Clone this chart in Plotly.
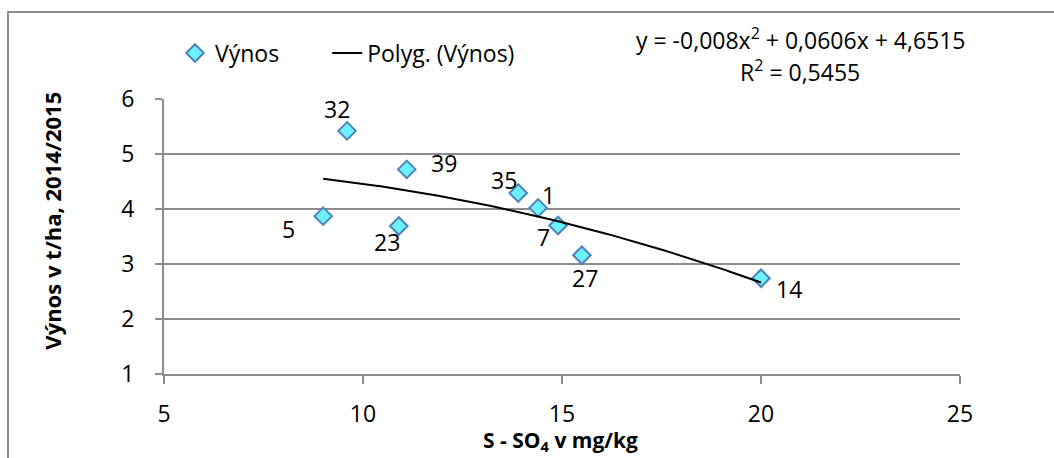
import plotly.graph_objects as go
import numpy as np

# Sulphate sulphur in soil vs. yield, with plot numbers
s_so4 = [9.6, 11.1, 9.0, 10.9, 13.9, 14.4, 14.9, 15.5, 20.0]
vynos = [5.42, 4.72, 3.87, 3.69, 4.29, 4.02, 3.70, 3.16, 2.74]
plot_ids = ["32", "39", "5", "23", "35", "1", "7", "27", "14"]

# Second-order polynomial trend (a*x^2 + b*x + c) and its R^2
trend_coef = [-0.008, 0.0606, 4.6515]
trend_r2 = 0.5455

x_ticks = [5, 10, 15, 20, 25]
y_ticks = [1, 2, 3, 4, 5, 6]

x_title = "<b>S - SO<sub>4</sub> v mg/kg</b>"
y_title = "<b>Výnos v t/ha, 2014/2015</b>"

# Label offsets (px) around each marker
label_dx = [-10, 37, -35, -12, -14, 10, -15, 3, 28]
label_dy = [-22, -6, 13, 16, -13, -13, 11, 23, 11]

FONT = "Open Sans"
GRID = "#8c8c8c"
FS = 23

def dec(v):
    return f"{v:g}".replace(".", ",")

xs = np.linspace(min(s_so4), max(s_so4), 100)
ys = np.polyval(trend_coef, xs)

fig = go.Figure()
fig.add_trace(go.Scatter(
    x=s_so4, y=vynos, mode="markers", name="Výnos", legend="legend",
    marker=dict(symbol="diamond", size=13.5, color="#6CF2FF",
                line=dict(color="#4F81BD", width=2)),
))
fig.add_trace(go.Scatter(
    x=xs, y=ys, mode="lines", name="Polyg. (Výnos)", legend="legend2",
    line=dict(color="black", width=2),
))

for x, y, t, dx, dy in zip(s_so4, vynos, plot_ids, label_dx, label_dy):
    fig.add_annotation(x=x, y=y, text=t, showarrow=False, xshift=dx, yshift=-dy,
                       font=dict(family=FONT, size=FS, color="black"))

a, b, c = trend_coef
eq = f"y = {dec(a)}x<sup>2</sup> + {dec(b)}x + {dec(c)}"
fig.add_annotation(xref="paper", yref="paper", x=0.799, y=1.22,
                   xanchor="center", yanchor="middle",
                   text=eq, showarrow=False,
                   font=dict(family=FONT, size=FS, color="black"))
fig.add_annotation(xref="paper", yref="paper", x=0.799, y=1.1,
                   xanchor="center", yanchor="middle",
                   text=f"R<sup>2</sup> = {dec(trend_r2)}", showarrow=False,
                   font=dict(family=FONT, size=FS, color="black"))

# Axis titles
fig.add_annotation(xref="paper", yref="paper", x=0.4975, y=-0.245,
                   xanchor="center", yanchor="middle", text=x_title, showarrow=False,
                   font=dict(family=FONT, size=21, color="black"))
fig.add_annotation(xref="paper", yref="paper", x=-0.14, y=0.556,
                   xanchor="center", yanchor="middle", text=y_title, textangle=-90,
                   showarrow=False, font=dict(family=FONT, size=22, color="black"))

# Chart frame
fig.add_shape(type="rect", xref="paper", yref="paper",
              x0=-0.196, x1=1.3, y0=-0.5, y1=1.316,
              line=dict(color="#8c8c8c", width=2), layer="below")

legend_common = dict(orientation="h", xanchor="left", yanchor="middle",
                     font=dict(family=FONT, size=FS), bgcolor="rgba(0,0,0,0)")

fig.update_layout(
    width=1054, height=458,
    margin=dict(l=164, r=94, t=99, b=84),
    paper_bgcolor="white", plot_bgcolor="white",
    font=dict(family=FONT, size=FS, color="black"),
    showlegend=True,
    legend=dict(x=0.0138, y=1.167, **legend_common),
    legend2=dict(x=0.205, y=1.167, **legend_common),
    xaxis=dict(range=[5, 25], tickvals=x_ticks, showgrid=False, zeroline=False,
               showline=True, linecolor=GRID, linewidth=2,
               ticks="outside", ticklen=8, tickcolor=GRID, tickwidth=2,
               ticklabelstandoff=10),
    yaxis=dict(range=[1, 6], tickvals=y_ticks, showgrid=True, gridcolor=GRID, gridwidth=2,
               zeroline=False, showline=True, linecolor=GRID, linewidth=2,
               ticks="outside", ticklen=7, tickcolor=GRID, tickwidth=2,
               ticklabelstandoff=16),
)

fig.write_html("out.html")
